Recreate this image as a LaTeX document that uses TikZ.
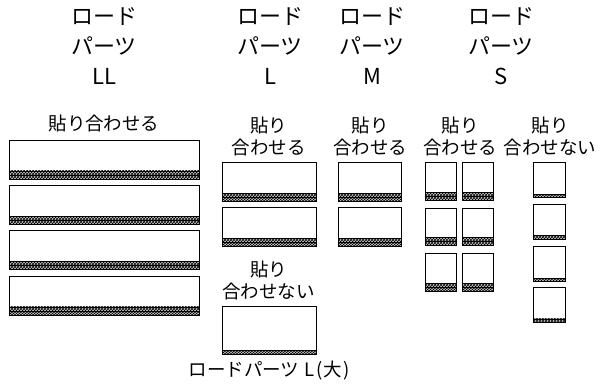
\documentclass[tikz,border=0pt]{standalone}
\usepackage{fontspec}
\setmainfont{Noto Sans CJK JP}
\usetikzlibrary{patterns}
\tikzset{
  part/.style 2 args={draw, line width=0.8pt, inner sep=0pt, minimum width=#1pt, minimum height=#2pt},
  laminated/.style={path picture={
    \fill[black!20] (path picture bounding box.south west) rectangle ([yshift=8pt]path picture bounding box.south east);
    \fill[pattern=crosshatch, pattern color=black]
      (path picture bounding box.south west) rectangle ([yshift=8pt]path picture bounding box.south east);
    \draw[line width=0.9pt]
      ([yshift=8pt]path picture bounding box.south west) -- ([yshift=8pt]path picture bounding box.south east)
      ([yshift=4pt]path picture bounding box.south west) -- ([yshift=4pt]path picture bounding box.south east);
  }},
  single/.style={path picture={
    \fill[black!20] (path picture bounding box.south west) rectangle ([yshift=3.5pt]path picture bounding box.south east);
    \fill[pattern=crosshatch, pattern color=black]
      (path picture bounding box.south west) rectangle ([yshift=3.5pt]path picture bounding box.south east);
    \draw[line width=0.9pt]
      ([yshift=3.5pt]path picture bounding box.south west) -- ([yshift=3.5pt]path picture bounding box.south east);
  }},
  head/.style={font=\fontsize{22}{30}\selectfont, align=center, inner sep=0pt},
  lbl/.style={font=\fontsize{18.5}{22}\selectfont, align=center, inner sep=0pt}
}
\begin{document}
\begin{tikzpicture}[x=1pt,y=-1pt]
  \useasboundingbox (0,0) rectangle (600,387);
  \node[head] (hLL) at (104,46) {ロード\\パーツ\\LL};
  \node[head] (hL) at (270,46) {ロード\\パーツ\\L};
  \node[head] (hM) at (372,46) {ロード\\パーツ\\M};
  \node[head] (hS) at (501,46) {ロード\\パーツ\\S};
  \node[lbl] (tLL) at (104,123) {貼り合わせる};
  \node[lbl] (tL) at (268.5,136) {貼り\\合わせる};
  \node[lbl] (tM) at (370,136) {貼り\\合わせる};
  \node[lbl] (tS) at (460,136) {貼り\\合わせる};
  \node[lbl] (tSn) at (550,136) {貼り\\合わせない};
  \node[lbl] (tLn) at (268.5,280) {貼り\\合わせない};
  \node[lbl] (tbig) at (269,371) {ロードパーツ\kern5pt L\kern2pt(\kern1pt 大\kern1pt)};
  \foreach \y [count=\i] in {159.5,204.8,250.2,295.5}
    \node[part={190}{39}, laminated] (ll\i) at (104,\y) {};
  \foreach \y [count=\i] in {182.2,227.2} {
    \node[part={94}{39}, laminated] (l\i) at (269,\y) {};
    \node[part={63}{39}, laminated] (m\i) at (370,\y) {};
  }
  \foreach \y [count=\i] in {181.5,227,272.5} {
    \node[part={31}{37.5}, laminated] (sa\i) at (441.2,\y) {};
    \node[part={31}{37.5}, laminated] (sb\i) at (478.3,\y) {};
  }
  \foreach \y [count=\i] in {180.2,221.8,264.2,305}
    \node[part={31.7}{35}, single] (sn\i) at (549.2,\y) {};
  \node[part={94}{47.6}, single] (lbig) at (269,330.5) {};
\end{tikzpicture}
\end{document}
